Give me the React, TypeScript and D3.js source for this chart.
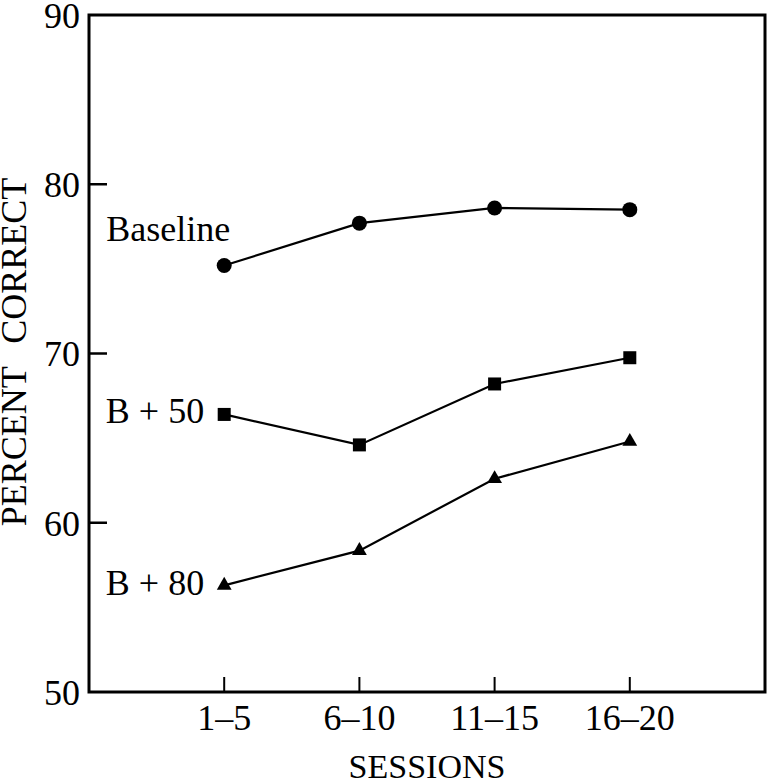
import React from "react";
import * as d3 from "d3";

const sessions = ["1–5", "6–10", "11–15", "16–20"];
const baseline = [75.2, 77.7, 78.6, 78.5];
const bPlus50 = [66.4, 64.6, 68.2, 69.75];
const bPlus80 = [56.3, 58.35, 62.6, 64.8];
const seriesNames = ["Baseline", "B + 50", "B + 80"];
const yTicks = [50, 60, 70, 80, 90];

const W = 767;
const H = 780;
const M = { left: 89, right: 765, top: 15, bottom: 692 };
const FONT = "'Liberation Serif', 'Times New Roman', serif";

export default function App() {
  const x = d3.scaleLinear().domain([0, 5]).range([M.left, M.right]);
  const y = d3.scaleLinear().domain([50, 90]).range([M.bottom, M.top]);
  const line = d3
    .line<number>()
    .x((_, i) => x(i + 1))
    .y((d) => y(d));

  const series = [
    { name: seriesNames[0], values: baseline, marker: "circle", labelDx: 6, labelDy: -24 },
    { name: seriesNames[1], values: bPlus50, marker: "square", labelDx: -20, labelDy: 9 },
    { name: seriesNames[2], values: bPlus80, marker: "triangle", labelDx: -20, labelDy: 10 },
  ];

  const tri = d3.symbol().type(d3.symbolTriangle).size(95)() as string;

  return (
    <svg
      width={W}
      height={H}
      style={{ position: "absolute", left: 0, top: 0, background: "#fff" }}
      fontFamily={FONT}
    >
      <rect
        x={M.left}
        y={M.top}
        width={M.right - M.left}
        height={M.bottom - M.top}
        fill="none"
        stroke="#000"
        strokeWidth={3}
      />
      {yTicks.map((t) => (
        <g key={t}>
          {t > 50 && t < 90 && (
            <line x1={M.left} x2={M.left + 18} y1={y(t)} y2={y(t)} stroke="#000" strokeWidth={2.5} />
          )}
          <text x={80} y={y(t)} dy="0.36em" textAnchor="end" fontSize={36}>
            {t}
          </text>
        </g>
      ))}
      {sessions.map((s, i) => (
        <g key={s}>
          <line x1={x(i + 1)} x2={x(i + 1)} y1={M.bottom} y2={M.bottom - 15} stroke="#000" strokeWidth={2} />
          <text x={x(i + 1)} y={730} textAnchor="middle" fontSize={36}>
            {s}
          </text>
        </g>
      ))}
      <text x={(M.left + M.right) / 2} y={778} textAnchor="middle" fontSize={34}>
        SESSIONS
      </text>
      <text
        transform={`translate(26, 352) rotate(-90)`}
        textAnchor="middle"
        fontSize={36}
        wordSpacing={14}
      >
        PERCENT CORRECT
      </text>
      {series.map((s) => (
        <g key={s.name}>
          <path d={line(s.values) as string} fill="none" stroke="#000" strokeWidth={2.2} />
          {s.values.map((v, i) => {
            const cx = x(i + 1);
            const cy = y(v);
            if (s.marker === "circle") return <circle key={i} cx={cx} cy={cy} r={7.5} fill="#000" />;
            if (s.marker === "square")
              return <rect key={i} x={cx - 6.5} y={cy - 6.5} width={13} height={13} fill="#000" />;
            return <path key={i} d={tri} transform={`translate(${cx},${cy})`} fill="#000" />;
          })}
          <text
            x={x(1) + s.labelDx}
            y={y(s.values[0]) + s.labelDy}
            textAnchor="end"
            fontSize={36}
          >
            {s.name}
          </text>
        </g>
      ))}
    </svg>
  );
}
